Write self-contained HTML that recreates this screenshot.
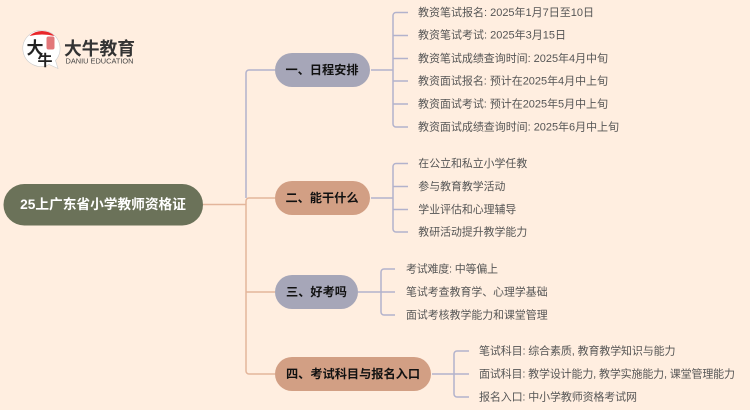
<!DOCTYPE html>
<html lang="zh">
<head>
<meta charset="utf-8">
<style>
html,body{margin:0;padding:0;background:#FFEEE0;}
svg{display:block;}
text{font-family:"Liberation Sans","Noto Sans CJK SC",sans-serif;}
.l{font-size:11px;fill:#555;dominant-baseline:central;}
.n{font-size:10.900px;}
.b{font-size:12.200px;font-weight:bold;fill:#111;text-anchor:middle;dominant-baseline:central;}
.c{fill:none;stroke-width:1.500;}
.bl{stroke:#B2B2CC;}
.pe{stroke:#E3B59B;}
</style>
</head>
<body>
<svg width="750" height="410" viewBox="0 0 750 410" xmlns="http://www.w3.org/2000/svg">
<rect width="750" height="410" fill="#FFEEE0"/>

<!-- logo -->
<path d="M42 30.500a18 18 0 0 1 13.500 30l2.500 8-9-4a18 18 0 1 1-7-34z" fill="#fff" stroke="#ccc" stroke-width=".6"/>
<path d="M29.500 36a18 18 0 0 1 25 0q-12.500-3-25 0z" fill="#E8262A"/>
<rect x="46.500" y="36.500" width="8" height="13" rx="2" fill="#E2777A"/>
<text x="35" y="54" font-size="17" font-weight="bold" fill="#222" text-anchor="middle">大</text>
<text x="45" y="65.500" font-size="15" font-weight="bold" fill="#222" text-anchor="middle">牛</text>
<text x="64" y="55" font-size="18" font-weight="bold" fill="#333" textLength="71" lengthAdjust="spacingAndGlyphs">大牛教育</text>
<text x="65.500" y="63.500" font-size="7.500" fill="#444" textLength="68" lengthAdjust="spacingAndGlyphs">DANIU EDUCATION</text>

<!-- trunk connectors -->
<path class="c pe" d="M203 204.500H246"/>
<path class="c bl" d="M275 70H249a3 3 0 0 0-3 3V198"/>
<path class="c pe" d="M275 198H249a3 3 0 0 0-3 3V371a3 3 0 0 0 3 3H275"/>
<path class="c pe" d="M246 292H275"/>

<!-- branch 1 connectors -->
<path class="c bl" d="M371 70H393"/>
<path class="c bl" d="M408 12.500H396a3 3 0 0 0-3 3V124a3 3 0 0 0 3 3H408"/>
<path class="c bl" d="M393 35.500H408M393 58.500H408M393 81H408M393 104H408"/>

<!-- branch 2 connectors -->
<path class="c bl" d="M371 198H393"/>
<path class="c bl" d="M408 163.500H396a3 3 0 0 0-3 3V229a3 3 0 0 0 3 3H408"/>
<path class="c bl" d="M393 186.500H408M393 209.500H408"/>

<!-- branch 3 connectors -->
<path class="c bl" d="M358 292H381"/>
<path class="c bl" d="M395 269H384a3 3 0 0 0-3 3V312a3 3 0 0 0 3 3H395"/>
<path class="c bl" d="M381 292H395"/>

<!-- branch 4 connectors -->
<path class="c bl" d="M432 374H454"/>
<path class="c bl" d="M469 351H457a3 3 0 0 0-3 3V394a3 3 0 0 0 3 3H469"/>
<path class="c bl" d="M454 374H469"/>

<!-- root -->
<rect x="3.500" y="184" width="199.500" height="41.500" rx="20.750" fill="#6B7259"/>
<text x="103" y="204.500" font-size="13.700" font-weight="bold" fill="#fff" text-anchor="middle" dominant-baseline="central">25上广东省小学教师资格证</text>

<!-- branches -->
<rect x="275" y="53" width="95" height="34" rx="17" fill="#A6A6B8"/>
<text class="b" x="322" y="70">一、日程安排</text>
<rect x="275" y="181" width="95" height="34" rx="17" fill="#D29F84"/>
<text class="b" x="322" y="198">二、能干什么</text>
<rect x="275" y="275" width="83" height="34" rx="17" fill="#A6A6B8"/>
<text class="b" x="316.500" y="292">三、好考吗</text>
<rect x="275" y="357" width="156" height="34" rx="17" fill="#D29F84"/>
<text class="b" x="353" y="374">四、考试科目与报名入口</text>

<!-- leaves -->
<text class="l" x="418" y="13.200" textLength="176">教资笔试报名: 2025年1月7日至10日</text>
<text class="l" x="418" y="35.700" textLength="148">教资笔试考试: 2025年3月15日</text>
<text class="l" x="418" y="59" textLength="190">教资笔试成绩查询时间: 2025年4月中旬</text>
<text class="l" x="418" y="81.700" textLength="190">教资面试报名: 预计在2025年4月中上旬</text>
<text class="l" x="418" y="104.700" textLength="190">教资面试考试: 预计在2025年5月中上旬</text>
<text class="l" x="418" y="127.700" textLength="201">教资面试成绩查询时间: 2025年6月中上旬</text>

<text class="l n" x="418.300" y="164">在公立和私立小学任教</text>
<text class="l n" x="418.300" y="187">参与教育教学活动</text>
<text class="l n" x="418.300" y="210">学业评估和心理辅导</text>
<text class="l n" x="418.300" y="232.700">教研活动提升教学能力</text>

<text class="l" x="406" y="269.700" textLength="92">考试难度: 中等偏上</text>
<text class="l n" x="406" y="292.700">笔试考查教育学、心理学基础</text>
<text class="l n" x="406" y="315.700">面试考核教学能力和课堂管理</text>

<text class="l" x="479" y="351.700" textLength="196.500">笔试科目: 综合素质, 教育教学知识与能力</text>
<text class="l" x="479" y="374.700" textLength="256">面试科目: 教学设计能力, 教学实施能力, 课堂管理能力</text>
<text class="l" x="479" y="397.700" textLength="158">报名入口: 中小学教师资格考试网</text>
</svg>
</body>
</html>
